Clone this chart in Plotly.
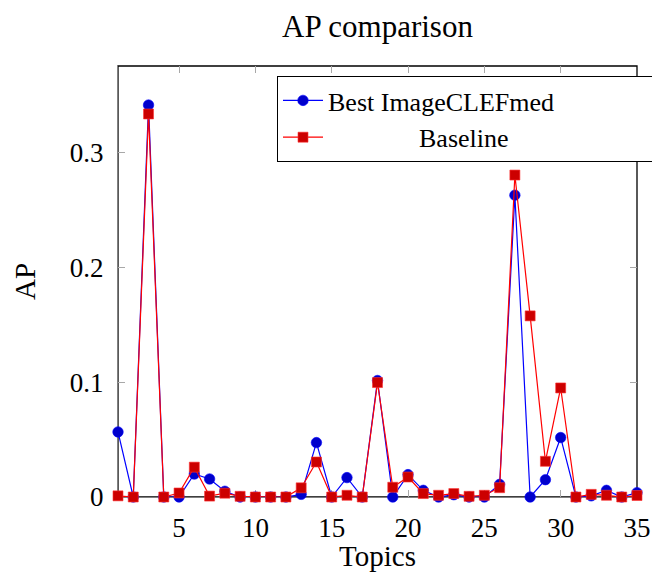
import plotly.graph_objects as go

topics = list(range(1, 36))
best_imageclefmed = [0.0567, 0.0, 0.3415, 0.0, 0.0, 0.0200, 0.0157, 0.0050, 0.0, 0.0,
                     0.0, 0.0, 0.0023, 0.0474, 0.0, 0.0169, 0.0, 0.1015, 0.0, 0.0195,
                     0.0058, 0.0, 0.0020, 0.0, 0.0, 0.0110, 0.2630, 0.0, 0.0151, 0.0518,
                     0.0, 0.0010, 0.0058, 0.0, 0.0038]
baseline = [0.0010, 0.0, 0.3337, 0.0, 0.0035, 0.0260, 0.0008, 0.0033, 0.0006, 0.0,
            0.0, 0.0, 0.0080, 0.0305, 0.0, 0.0015, 0.0, 0.0997, 0.0085, 0.0174,
            0.0030, 0.0015, 0.0030, 0.0006, 0.0015, 0.0081, 0.2805, 0.1578, 0.0311, 0.0950,
            0.0, 0.0023, 0.0015, 0.0, 0.0013]
x_ticks = [5, 10, 15, 20, 25, 30, 35]
y_ticks = [0, 0.1, 0.2, 0.3]
y_tick_labels = ["0", "0.1", "0.2", "0.3"]

FONT = "Liberation Serif"
GREY = "#808080"
TICKGREY = "#a8a8a8"
XR = [1, 35]
YR = [0, 0.3755]

fig = go.Figure()
fig.add_trace(go.Scatter(
    x=topics, y=best_imageclefmed, mode="lines+markers", name="Best ImageCLEFmed",
    line=dict(color="#0000ff", width=1.2),
    marker=dict(symbol="circle", size=10.5, color="#0000cc", line=dict(color="#0000ff", width=0.6)),
    cliponaxis=False,
))
fig.add_trace(go.Scatter(
    x=topics, y=baseline, mode="lines+markers",
    name="\u00a0" * 14 + "Baseline",
    line=dict(color="#ff0000", width=1.2),
    marker=dict(symbol="square", size=10, color="#cc0000", line=dict(color="#ff3333", width=0.6)),
    cliponaxis=False,
))
# empty helper trace so the mirrored (top/right) tick axes are rendered
fig.add_trace(go.Scatter(x=[], y=[], xaxis="x2", yaxis="y2", showlegend=False,
                         hoverinfo="skip", mode="markers"))

fig.update_layout(
    width=652, height=572,
    margin=dict(l=118, r=15, t=66, b=75, autoexpand=False),
    paper_bgcolor="white", plot_bgcolor="white",
    font=dict(family=FONT, size=27, color="black"),
    title=dict(text="AP comparison", x=(118 + 637) / 2 / 652, xanchor="center",
               y=1 - 26 / 572, yanchor="middle", font=dict(size=31)),
    showlegend=True,
    legend=dict(x=(277 - 118) / 519, y=(497 - 76) / 431, xanchor="left", yanchor="top",
                orientation="h", bgcolor="white", bordercolor="black", borderwidth=1,
                font=dict(size=26), tracegroupgap=0, itemwidth=40,
                entrywidth=329, entrywidthmode="pixels"),
    shapes=[dict(type="rect", xref="paper", yref="paper", x0=0, y0=0, x1=1, y1=1,
                 line=dict(color="black", width=1.3), layer="below")],
)
fig.update_xaxes(
    range=XR, tickvals=x_ticks, ticks="inside", ticklen=7, tickcolor=TICKGREY, tickwidth=1,
    showline=True, linecolor=GREY, linewidth=1.3, mirror=False, showgrid=False, zeroline=False,
    title=dict(text="Topics", standoff=16, font=dict(size=29)), layer="below traces",
    ticklabelstandoff=6, automargin=False,
)
fig.update_yaxes(
    range=YR, tickvals=y_ticks, ticktext=y_tick_labels, ticks="inside", ticklen=7,
    tickcolor=TICKGREY, tickwidth=1,
    showline=True, linecolor=GREY, linewidth=1.3, mirror=False, showgrid=False, zeroline=False,
    title=dict(text="AP", standoff=25, font=dict(size=29)), layer="below traces",
    ticklabelstandoff=8, automargin=False,
)
fig.update_layout(
    xaxis2=dict(overlaying="x", side="top", anchor="y2", range=XR, tickvals=x_ticks, ticks="inside",
                ticklen=7, tickcolor=TICKGREY, showticklabels=False, showline=False,
                showgrid=False, zeroline=False, layer="below traces", automargin=False),
    yaxis2=dict(overlaying="y", side="right", anchor="x2", range=YR, tickvals=y_ticks, ticks="inside",
                ticklen=7, tickcolor=TICKGREY, showticklabels=False, showline=False,
                showgrid=False, zeroline=False, layer="below traces", automargin=False),
)

fig.write_html("out.html", config={"displayModeBar": False},
               post_script="document.body.style.margin='0';document.body.style.overflow='hidden';")
